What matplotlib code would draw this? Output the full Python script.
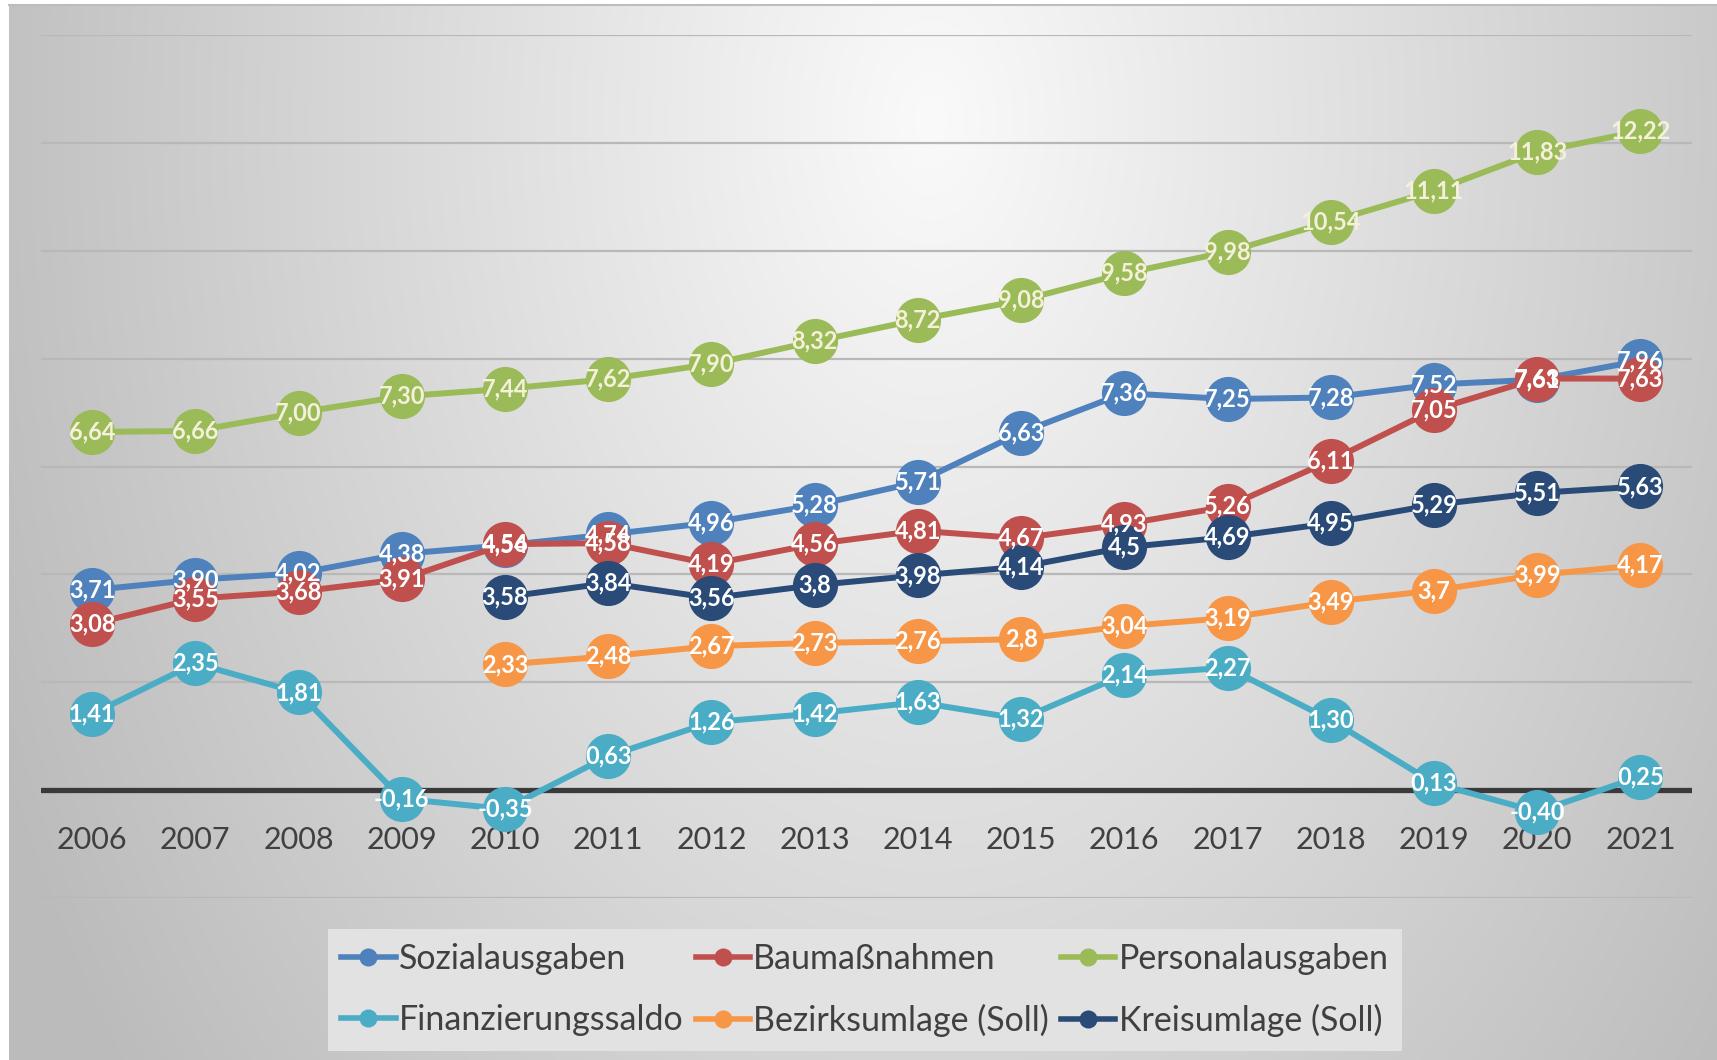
import numpy as np
import matplotlib
matplotlib.use("Agg")
import matplotlib.pyplot as plt
from matplotlib.lines import Line2D

years = ["2006", "2007", "2008", "2009", "2010", "2011", "2012", "2013",
         "2014", "2015", "2016", "2017", "2018", "2019", "2020", "2021"]

sozialausgaben = [3.71, 3.90, 4.02, 4.38, 4.54, 4.74, 4.96, 5.28, 5.71, 6.63,
                  7.36, 7.25, 7.28, 7.52, 7.61, 7.96]
baumassnahmen = [3.08, 3.55, 3.68, 3.91, 4.56, 4.58, 4.19, 4.56, 4.81, 4.67,
                 4.93, 5.26, 6.11, 7.05, 7.63, 7.63]
personalausgaben = [6.64, 6.66, 7.00, 7.30, 7.44, 7.62, 7.90, 8.32, 8.72, 9.08,
                    9.58, 9.98, 10.54, 11.11, 11.83, 12.22]
finanzierungssaldo = [1.41, 2.35, 1.81, -0.16, -0.35, 0.63, 1.26, 1.42, 1.63, 1.32,
                      2.14, 2.27, 1.30, 0.13, -0.40, 0.25]
bezirksumlage = [None, None, None, None, 2.33, 2.48, 2.67, 2.73, 2.76, 2.8,
                 3.04, 3.19, 3.49, 3.7, 3.99, 4.17]
kreisumlage = [None, None, None, None, 3.58, 3.84, 3.56, 3.8, 3.98, 4.14,
               4.5, 4.69, 4.95, 5.29, 5.51, 5.63]

series_names = ["Sozialausgaben", "Baumaßnahmen", "Personalausgaben",
                "Finanzierungssaldo", "Bezirksumlage (Soll)", "Kreisumlage (Soll)"]
series_values = [sozialausgaben, baumassnahmen, personalausgaben,
                 finanzierungssaldo, bezirksumlage, kreisumlage]
series_colors = ["#4f81bd", "#c0504d", "#9bbb59", "#4bacc6", "#f79646", "#2a4a78"]
label_colors = ["white", "white", "#f4f0da", "white", "white", "white"]
label_fixed2 = [True, True, True, True, False, False]

FONT = ["Lato", "DejaVu Sans"]
plt.rcParams["font.family"] = FONT

W, H = 1717, 1060
fig = plt.figure(figsize=(W / 100, H / 100), dpi=100)
fig.patch.set_facecolor("white")

# background gradient
bx0, by0 = 9, 5
bg = fig.add_axes([bx0 / W, 0, 1 - bx0 / W, 1 - by0 / H], zorder=-5)
yy, xx = np.mgrid[by0:H, bx0:W].astype(float)
d = np.sqrt(((xx - 930) / 850) ** 2 + ((yy - 120) / 1300) ** 2)
val = 250 - 52 * np.clip(d, 0, 1.2)
img = np.dstack([val, val, val]) / 255.0
bg.imshow(img, aspect="auto", extent=[0, 1, 0, 1], origin="upper")
bg.axis("off")
fig.add_artist(Line2D([bx0 / W, 1], [1 - by0 / H, 1 - by0 / H],
                      color="#bdbdbd", lw=1.5, transform=fig.transFigure))

ax = fig.add_axes([40.5 / W, 1 - 898 / H, (1692 - 40.5) / W, (898 - 35) / H])
ax.set_facecolor("none")
x = np.arange(len(years))
ax.set_xlim(-0.5, len(years) - 0.5)
ax.set_ylim(-2, 14)
ax.set_yticks(np.arange(-2, 15, 2))
ax.yaxis.grid(True, color="#b8b8b8", lw=1.6, zorder=0)
ax.set_axisbelow(True)
ax.tick_params(axis="y", left=False, labelleft=False)
for s in ax.spines.values():
    s.set_visible(False)
ax.spines["bottom"].set_position(("data", 0))
ax.axhline(0, color="#3a3a3a", lw=3.8, zorder=1)
ax.set_xticks(x)
ax.set_xticklabels(years, fontsize=22, color="#404040")
ax.tick_params(axis="x", length=0, pad=26)

handles = []
for i, (name, vals, col) in enumerate(zip(series_names, series_values, series_colors)):
    arr = np.array([np.nan if v is None else v for v in vals], dtype=float)
    ax.plot(x, arr, color=col, lw=4.3, marker="o", markersize=32.5,
            markeredgewidth=0, zorder=3 + i, solid_capstyle="round")
    handles.append(Line2D([], [], color=col, lw=4, marker="o", markersize=13,
                          markeredgewidth=0))
    for xi, v in zip(x, vals):
        if v is None:
            continue
        if label_fixed2[i]:
            txt = f"{v:.2f}".replace(".", ",")
        else:
            txt = f"{v:g}".replace(".", ",")
        ax.text(xi, v, txt, ha="center", va="center", fontsize=17,
                fontweight="bold", color=label_colors[i], zorder=20)

# legend filled row by row (matplotlib fills by column)
order = [0, 3, 1, 4, 2, 5]
leg = fig.legend([handles[k] for k in order], [series_names[k] for k in order],
                 ncol=3, loc="center",
                 bbox_to_anchor=(865 / W, 1 - 990 / H), fontsize=24.5,
                 frameon=True, fancybox=False, facecolor="#e2e2e2",
                 edgecolor="none", framealpha=1, handlelength=1.6,
                 handletextpad=0.1, columnspacing=0.35, labelspacing=0.85,
                 borderpad=0.4, borderaxespad=0)
for t in leg.get_texts():
    t.set_color("#404040")

fig.savefig("out.png", dpi=100, facecolor="white")
